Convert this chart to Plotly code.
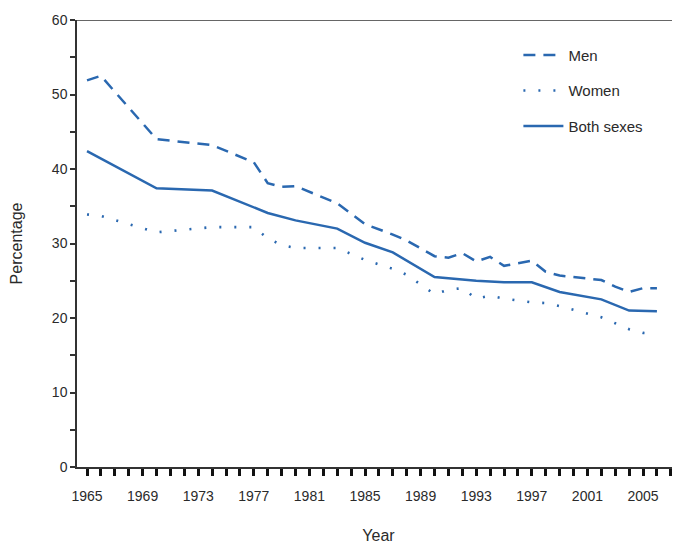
import plotly.graph_objects as go

men_years = [1965, 1966, 1970, 1974, 1977, 1978, 1979, 1980, 1983, 1985, 1987, 1988, 1990,
             1991, 1992, 1993, 1994, 1995, 1997, 1998, 1999, 2000, 2002, 2003, 2004, 2005, 2006]
men_vals = [51.9, 52.5, 44.0, 43.2, 40.9, 38.1, 37.6, 37.7, 35.4, 32.6, 31.2, 30.4, 28.3,
            28.1, 28.7, 27.6, 28.2, 27.0, 27.7, 26.2, 25.7, 25.5, 25.1, 24.2, 23.5, 24.0, 24.0]

women_years = [1965, 1966, 1970, 1974, 1977, 1978, 1979, 1980, 1983, 1985, 1987, 1988, 1990,
               1991, 1992, 1993, 1994, 1995, 1997, 1998, 1999, 2000, 2001, 2002, 2003, 2004, 2005, 2006]
women_vals = [33.9, 33.7, 31.5, 32.2, 32.2, 30.7, 29.8, 29.4, 29.4, 27.8, 26.6, 25.8, 23.2,
              23.8, 24.0, 22.6, 23.0, 22.6, 22.1, 22.0, 21.6, 21.1, 20.7, 20.1, 19.3, 18.5, 18.0, 17.9]

both_years = [1965, 1970, 1974, 1978, 1980, 1983, 1985, 1987, 1990, 1993, 1995, 1997, 1999,
              2000, 2002, 2004, 2006]
both_vals = [42.4, 37.4, 37.1, 34.1, 33.1, 32.0, 30.1, 28.8, 25.5, 25.0, 24.8, 24.8, 23.5,
             23.2, 22.5, 21.0, 20.9]

y_ticks = [0, 10, 20, 30, 40, 50, 60]
x_labels = [1965, 1969, 1973, 1977, 1981, 1985, 1989, 1993, 1997, 2001, 2005]

BLUE = "#2a68b0"
FONT = "Liberation Sans, Arial, sans-serif"
TXT = "#2a2a2a"

fig = go.Figure()
fig.add_trace(go.Scatter(x=men_years, y=men_vals, mode="lines", name="Men", legendgroup="a",
                         line=dict(color=BLUE, width=2.5, dash="12px,8px")))
fig.add_trace(go.Scatter(x=women_years, y=women_vals, mode="lines", name="Women", legendgroup="b",
                         line=dict(color=BLUE, width=2.6, dash="2px,13px")))
fig.add_trace(go.Scatter(x=both_years, y=both_vals, mode="lines", name="Both sexes", legendgroup="c",
                         line=dict(color=BLUE, width=2.5)))

fig.add_shape(type="line", xref="paper", yref="y", x0=0, x1=1, y0=60, y1=60,
              line=dict(color="#333333", width=1.5))

fig.update_layout(
    width=672, height=536,
    margin=dict(l=69, r=0, t=12, b=77, autoexpand=False),
    paper_bgcolor="white", plot_bgcolor="white",
    font=dict(family=FONT, color=TXT, size=14),
    showlegend=True,
    legend=dict(x=0.732, y=0.958, xanchor="left", yanchor="top",
                font=dict(size=15, family=FONT, color=TXT),
                tracegroupgap=13, bgcolor="rgba(0,0,0,0)", itemwidth=40),
    xaxis=dict(range=[1964.28, 2007.66], tickmode="array", tickvals=x_labels,
               ticktext=[str(v) for v in x_labels], automargin=False,
               ticks="outside", ticklen=7, tickwidth=2.5, tickcolor="#111111",
               minor=dict(dtick=1, tick0=1965, ticks="outside", ticklen=7, tickwidth=2.5,
                          tickcolor="#111111", showgrid=False),
               showline=True, linecolor="#333333", linewidth=2, showgrid=False, zeroline=False,
               ticklabelstandoff=8, tickfont=dict(size=14, family=FONT, color=TXT),
               title=dict(text="Year", standoff=32, font=dict(size=16, family=FONT, color=TXT))),
    yaxis=dict(range=[0, 60], tickmode="array", tickvals=y_ticks, automargin=False,
               ticks="outside", ticklen=5, tickwidth=1.5, tickcolor="#333333",
               minor=dict(dtick=5, tick0=0, ticks="outside", ticklen=5, tickwidth=1.5,
                          tickcolor="#333333", showgrid=False),
               showline=True, linecolor="#333333", linewidth=1.5, showgrid=False, zeroline=False,
               tickfont=dict(size=14, family=FONT, color=TXT),
               title=dict(text="Percentage", standoff=27, font=dict(size=16, family=FONT, color=TXT))),
)

fig.write_html("out.html")
